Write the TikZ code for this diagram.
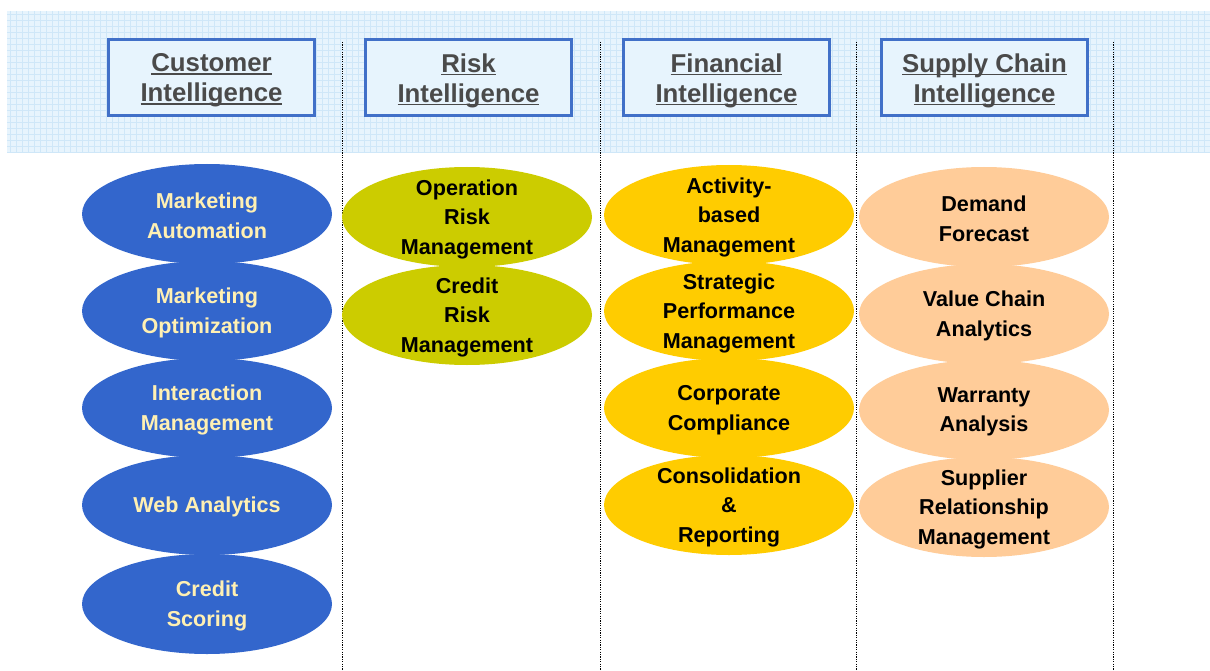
\documentclass[tikz,border=0pt]{standalone}
\usepackage{fontspec}
\setmainfont{Liberation Sans}
\usetikzlibrary{shapes.geometric}
\definecolor{bandbg}{HTML}{E7F4FD}
\definecolor{bandgrid}{HTML}{CFE7F8}
\definecolor{hdrborder}{HTML}{4170C8}
\definecolor{hdrtext}{HTML}{4A4A4A}
\definecolor{cblue}{HTML}{3366CC}
\definecolor{ctext}{HTML}{FFF0B3}
\definecolor{colive}{HTML}{CCCC00}
\definecolor{cgold}{HTML}{FFCC00}
\definecolor{cpeach}{HTML}{FFCC99}
\newcommand{\hdrul}[1]{\setbox0\hbox{#1}\copy0\llap{\rule[-3.2pt]{\wd0}{1.8pt}}}
\tikzset{
  hdrbox/.style={draw=hdrborder, line width=3pt, fill=bandbg, minimum width=206pt, minimum height=76pt, inner sep=0pt},
  hdrlabel/.style={text=hdrtext, font=\bfseries\fontsize{25.8}{30}\selectfont, align=center, inner sep=0pt, yshift=-3pt},
  oval/.style={ellipse, minimum width=250pt, minimum height=100pt, inner sep=0pt, draw=none},
  ovallabel/.style={font=\bfseries\fontsize{21.6}{29.5}\selectfont, align=center, inner sep=0pt, yshift=-2pt},
  sepline/.style={draw=black, line width=1pt, dash pattern=on 1.2pt off 1.2pt},
  gridline/.style={draw=bandgrid, line width=0.6pt}
}
\begin{document}
\begin{tikzpicture}[x=1pt, y=-1pt]
\useasboundingbox (0,0) rectangle (1210,671);
% header band
\fill[bandbg] (7,11) rectangle (1210,153);
\foreach \gx in {10,16,...,1208} { \draw[gridline] (\gx,11) -- (\gx,153); }
\foreach \gy in {14,20,...,152} { \draw[gridline] (7,\gy) -- (1210,\gy); }
% separators
\coordinate (s1t) at (342,42); \coordinate (s1b) at (342,671);
\coordinate (s2t) at (600,42); \coordinate (s2b) at (600,671);
\coordinate (s3t) at (856,42); \coordinate (s3b) at (856,671);
\coordinate (s4t) at (1113,42); \coordinate (s4b) at (1113,671);
\draw[sepline] (s1t) -- (s1b);
\draw[sepline] (s2t) -- (s2b);
\draw[sepline] (s3t) -- (s3b);
\draw[sepline] (s4t) -- (s4b);
% header boxes
\node[hdrbox] (h1) at (211.5,77.5) {};
\node[hdrbox] (h2) at (468.5,77.5) {};
\node[hdrbox] (h3) at (726.5,77.5) {};
\node[hdrbox] (h4) at (984.5,77.5) {};
\node[hdrlabel] (h1t) at (h1) {\hdrul{Customer}\\\hdrul{Intelligence}};
\node[hdrlabel] (h2t) at (h2) {\hdrul{Risk}\\\hdrul{Intelligence}};
\node[hdrlabel] (h3t) at (h3) {\hdrul{Financial}\\\hdrul{Intelligence}};
\node[hdrlabel] (h4t) at (h4) {\hdrul{Supply Chain}\\\hdrul{Intelligence}};
% ovals: customer
\node[oval, fill=cblue] (c1) at (207,214) {};
\node[oval, fill=cblue] (c2) at (207,311) {};
\node[oval, fill=cblue] (c3) at (207,408) {};
\node[oval, fill=cblue] (c4) at (207,505) {};
\node[oval, fill=cblue] (c5) at (207,604) {};
% risk
\node[oval, fill=colive] (r1) at (467,217) {};
\node[oval, fill=colive] (r2) at (467,315) {};
% financial
\node[oval, fill=cgold] (f1) at (729,215) {};
\node[oval, fill=cgold] (f2) at (729,311) {};
\node[oval, fill=cgold] (f3) at (729,408) {};
\node[oval, fill=cgold] (f4) at (729,505) {};
% supply chain
\node[oval, fill=cpeach] (p1) at (984,217) {};
\node[oval, fill=cpeach] (p2) at (984,314) {};
\node[oval, fill=cpeach] (p3) at (984,410) {};
\node[oval, fill=cpeach] (p4) at (984,507) {};
% labels
\node[ovallabel, text=ctext] at (c1) {Marketing\\Automation};
\node[ovallabel, text=ctext] at (c2) {Marketing\\Optimization};
\node[ovallabel, text=ctext] at (c3) {Interaction\\Management};
\node[ovallabel, text=ctext] at (c4) {Web Analytics};
\node[ovallabel, text=ctext] at (c5) {Credit\\Scoring};
\node[ovallabel] at (r1) {Operation\\Risk\\Management};
\node[ovallabel] at (r2) {Credit\\Risk\\Management};
\node[ovallabel] at (f1) {Activity-\\based\\Management};
\node[ovallabel] at (f2) {Strategic\\Performance\\Management};
\node[ovallabel] at (f3) {Corporate\\Compliance};
\node[ovallabel] at (f4) {Consolidation\\\&\\Reporting};
\node[ovallabel] at (p1) {Demand\\Forecast};
\node[ovallabel] at (p2) {Value Chain\\Analytics};
\node[ovallabel] at (p3) {Warranty\\Analysis};
\node[ovallabel] at (p4) {Supplier\\Relationship\\Management};
\end{tikzpicture}
\end{document}
